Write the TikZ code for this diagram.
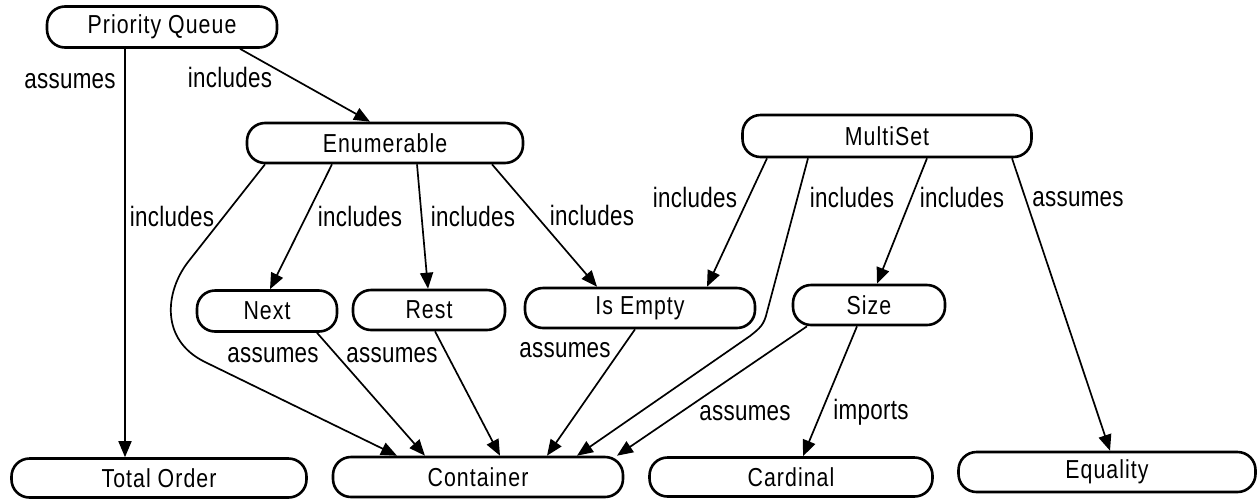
\documentclass[tikz,border=0pt]{standalone}
\usepackage{fontspec}
\newfontfamily\nodefont{Liberation Sans}[FakeStretch=0.82,LetterSpace=4]
\newfontfamily\lblfont{Liberation Sans}[FakeStretch=0.8,LetterSpace=1]
\usetikzlibrary{arrows.meta}
\begin{document}
\begin{tikzpicture}[x=1pt,y=-1pt,
  box/.style={draw, line width=2.6pt, rounded corners=18pt, inner sep=0pt,
    font=\nodefont\fontsize{26}{30}\selectfont, minimum height=40pt},
  lbl/.style={anchor=base, inner sep=0pt, font=\lblfont\fontsize{28}{32}\selectfont},
  edge/.style={line width=1.7pt, -{Triangle[length=16pt,width=13pt]}}
]
\fill[white] (0,0) rectangle (1258,499);
\useasboundingbox (0,0) rectangle (1258,499);

% nodes
\node[box, minimum width=230pt, minimum height=41pt] (pq) at (162,27) {Priority Queue};
\node[box, minimum width=276pt] (enum) at (385,143) {Enumerable};
\node[box, minimum width=289pt, minimum height=42pt] (ms) at (887,136) {MultiSet};
\node[box, minimum width=140pt, minimum height=41pt] (next) at (267,311) {Next};
\node[box, minimum width=152pt] (rest) at (429,310) {Rest};
\node[box, minimum width=230pt] (isempty) at (640,308) {Is Empty};
\node[box, minimum width=152pt] (size) at (869,305) {Size};
\node[box, minimum width=295pt, minimum height=39pt] (total) at (159,478) {Total Order};
\node[box, minimum width=290pt] (container) at (478,477) {Container};
\node[box, minimum width=283pt, minimum height=39pt] (cardinal) at (791,477) {Cardinal};
\node[box, minimum width=297pt] (equality) at (1107,472) {Equality};

% labels
\node[lbl] (l1) at (70,88) {assumes};
\node[lbl] (l2) at (230,87) {includes};
\node[lbl] (l3) at (172,226) {includes};
\node[lbl] (l4) at (360,226) {includes};
\node[lbl] (l5) at (473,226) {includes};
\node[lbl] (l6) at (592,225) {includes};
\node[lbl] (l7) at (695,207) {includes};
\node[lbl] (l8) at (852,207) {includes};
\node[lbl] (l9) at (962,207) {includes};
\node[lbl] (l10) at (1078,206) {assumes};
\node[lbl] (l11) at (273,362) {assumes};
\node[lbl] (l12) at (392,362) {assumes};
\node[lbl] (l13) at (565,357) {assumes};
\node[lbl] (l14) at (745,420) {assumes};
\node[lbl] (l15) at (871,419) {imports};

% connectors
\draw[edge] ([xshift=-37pt]pq.south) -- ([xshift=-34pt]total.north);
\draw[edge] ([xshift=78pt]pq.south) -- ([xshift=-15pt]enum.north);
\draw[edge] ([xshift=-120pt]enum.south) -- (188,262) .. controls (165,292) and (160,340) .. (205,362) -- ([xshift=-81pt]container.north);
\draw[edge] ([xshift=-53pt]enum.south) -- ([xshift=3pt]next.north);
\draw[edge] ([xshift=32pt]enum.south) -- ([xshift=-1pt]rest.north);
\draw[edge] ([xshift=107pt]enum.south) -- ([xshift=-43pt]isempty.north);
\draw[edge] ([xshift=-120pt]ms.south) -- ([xshift=67pt]isempty.north);
\draw[edge] ([xshift=-79pt]ms.south) -- (767,312) .. controls (764,325) and (760,328) .. (750,336) -- ([xshift=99pt]container.north);
\draw[edge] ([xshift=40pt]ms.south) -- ([xshift=8pt]size.north);
\draw[edge] ([xshift=125pt]ms.south) -- ([xshift=3pt]equality.north);
\draw[edge] ([xshift=50pt]next.south) -- ([xshift=-53pt]container.north);
\draw[edge] ([xshift=6pt]rest.south) -- ([xshift=22pt]container.north);
\draw[edge] ([xshift=-5pt]isempty.south) -- ([xshift=69pt]container.north);
\draw[edge] ([xshift=-62pt]size.south) -- ([xshift=139pt]container.north);
\draw[edge] ([xshift=-12pt]size.south) -- ([xshift=12pt]cardinal.north);
\end{tikzpicture}
\end{document}
